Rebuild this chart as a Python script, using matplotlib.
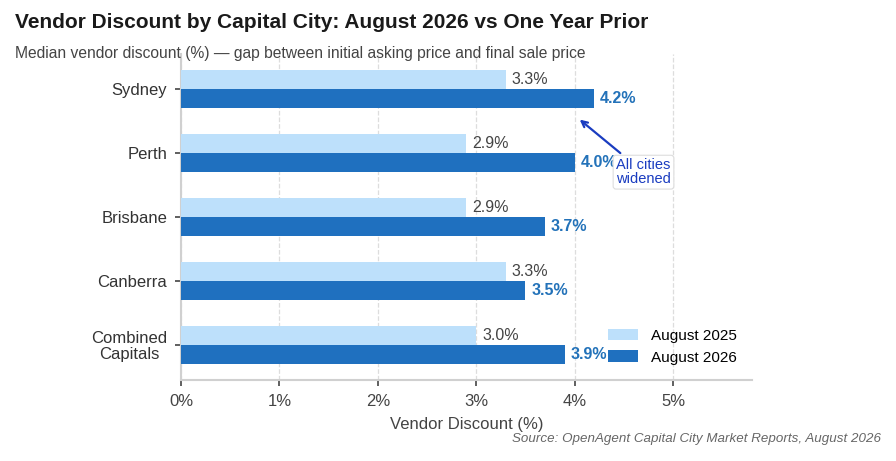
#!/usr/bin/env python3

"""
plot.py
"""

import numpy as np
from matplotlib import pyplot as plt
from matplotlib.ticker import FuncFormatter

cities = ['Sydney', 'Perth', 'Brisbane', 'Canberra', 'Combined\nCapitals']
prior = [3.3, 2.9, 2.9, 3.3, 3.0]
current = [4.2, 4.0, 3.7, 3.5, 3.9]
seriesNames = ['August 2025', 'August 2026']

lightBlue = '#bde0fb'
darkBlue = '#1f70bf'

plt.rcParams['font.family'] = ['Liberation Sans', 'DejaVu Sans']

fig = plt.figure(figsize=(8.96, 4.61), dpi=100)
ax = fig.add_axes([0.202, 0.176, 0.637, 0.707])

y = np.arange(len(cities))
h = 0.3
ax.barh(y - h / 2, prior, height=h, color=lightBlue, label=seriesNames[0], zorder=3)
ax.barh(y + h / 2, current, height=h, color=darkBlue, label=seriesNames[1], zorder=3)

# Value labels next to each bar.
for i in range(len(cities)):
  ax.text(prior[i] + 0.06, y[i] - h / 2, '{:.1f}%'.format(prior[i]),
          va='center', ha='left', fontsize=11.5, color='#444444')
  ax.text(current[i] + 0.06, y[i] + h / 2, '{:.1f}%'.format(current[i]),
          va='center', ha='left', fontsize=11.5, color='#2372b9', fontweight='bold')

ax.set_yticks(y)
ax.set_yticklabels(cities, fontsize=12, color='#333333', linespacing=1.05,
                   multialignment='center')
ax.set_ylim(len(cities) - 0.45, -0.55)
ax.set_xlim(0, 5.8)
ax.set_xticks([0, 1, 2, 3, 4, 5])
ax.xaxis.set_major_formatter(FuncFormatter(lambda v, p: '{:.0f}%'.format(v)))
ax.tick_params(axis='x', labelsize=12, colors='#444444', length=4, width=1.2, pad=6)
ax.tick_params(axis='y', length=4, width=1.2, pad=6, colors='#444444', labelcolor='#333333')
ax.set_xlabel('Vendor Discount (%)', fontsize=12, color='#444444', labelpad=6)

ax.grid(axis='x', linestyle='--', color='#dddddd', linewidth=0.9, zorder=0)
for side in ['top', 'right']:
  ax.spines[side].set_visible(False)
for side in ['left', 'bottom']:
  ax.spines[side].set_color('#d0d0d0')
  ax.spines[side].set_linewidth(1.5)

ax.annotate('All cities\nwidened', xy=(4.03, 0.45), xytext=(4.7, 1.3),
            ha='center', va='center', fontsize=10.5, color='#1a3cc0', linespacing=1.0,
            bbox=dict(boxstyle='round,pad=0.2', fc='white', ec='#dddddd', lw=0.8),
            arrowprops=dict(arrowstyle='->', color='#1a3cc0', lw=1.6))

ax.legend(loc='lower right', frameon=False, fontsize=11, handlelength=2.0,
          handleheight=0.8, bbox_to_anchor=(1.0, 0.0), borderaxespad=0.6,
          labelspacing=0.5)

fig.text(0.017, 0.952, 'Vendor Discount by Capital City: August 2026 vs One Year Prior',
         fontsize=15, fontweight='bold', color='#1a1a1a', va='center')
fig.text(0.017, 0.885, 'Median vendor discount (%) \u2014 gap between initial asking price and final sale price',
         fontsize=11.25, color='#444444', va='center')
fig.text(0.983, 0.047, 'Source: OpenAgent Capital City Market Reports, August 2026',
         fontsize=9.6, color='#666666', style='italic', ha='right', va='center')

fig.savefig('out.png', dpi=100)
